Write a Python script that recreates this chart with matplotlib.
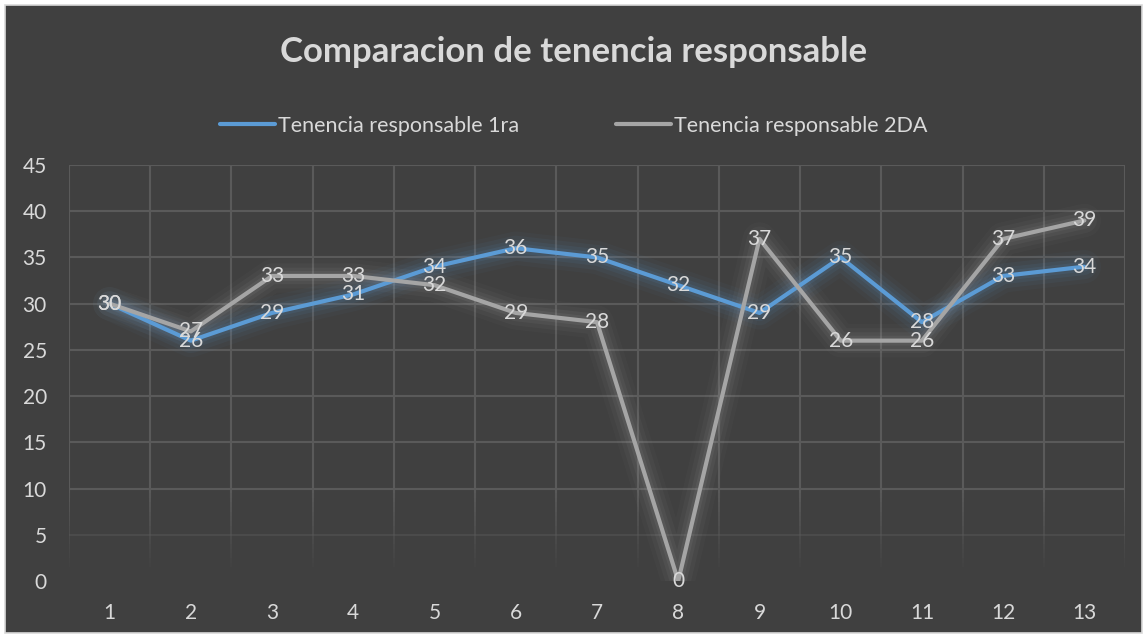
import matplotlib
matplotlib.use("Agg")
import matplotlib.pyplot as plt
from matplotlib.patches import Rectangle
from matplotlib.collections import LineCollection
import numpy as np

# data
muestras = list(range(1, 14))
primera = [30, 26, 29, 31, 34, 36, 35, 32, 29, 35, 28, 33, 34]
segunda = [30, 27, 33, 33, 32, 29, 28, 0, 37, 26, 26, 37, 39]
y_ticks = [0, 5, 10, 15, 20, 25, 30, 35, 40, 45]

BG = "#404040"
GRID = "#5a5a5a"
TXT = "#d9d9d9"
BLUE = "#5b9bd5"
GREY = "#a5a5a5"

plt.rcParams["font.family"] = ["Lato", "DejaVu Sans"]

fig = plt.figure(figsize=(11.48, 6.38), dpi=100)
fig.patch.set_facecolor("white")
fig.patches.append(Rectangle((5 / 1148, 5 / 638), 1137 / 1148, 628 / 638,
                             transform=fig.transFigure, facecolor=BG,
                             edgecolor="#d9d9d9", linewidth=1.2, zorder=-10))

ax = fig.add_axes([69 / 1148, 57 / 638, 1056 / 1148, 416 / 638])
ax.patch.set_alpha(0)
ax.set_xlim(0.5, 13.5)
ax.set_ylim(0, 45)


# gridlines fade out toward the bottom of the plot
def fade(v):
    return float(np.clip((v - 1) / 9, 0, 1))


for v in y_ticks[1:]:
    ax.plot([0.5, 13.5], [v, v], color=GRID, lw=1.5, alpha=fade(v), zorder=1)
ys = np.linspace(0, 45, 91)
for x in np.arange(0.5, 13.6, 1):
    segs = [[(x, ys[i]), (x, ys[i + 1])] for i in range(len(ys) - 1)]
    alphas = [fade((ys[i] + ys[i + 1]) / 2) for i in range(len(ys) - 1)]
    lc = LineCollection(segs, colors=[(0.353, 0.353, 0.353, a) for a in alphas],
                        linewidths=1.5, zorder=1)
    ax.add_collection(lc)

# lines with a soft glow
for vals, col in [(segunda, GREY), (primera, BLUE)]:
    for w, a in [(24, 0.04), (18, 0.06), (12, 0.08), (7, 0.10)]:
        ax.plot(muestras, vals, color=col, lw=w, alpha=a,
                solid_joinstyle="round", solid_capstyle="round", zorder=2)
ax.plot(muestras, primera, color=BLUE, lw=3, solid_joinstyle="round",
        solid_capstyle="round", zorder=3, label="Tenencia responsable 1ra")
ax.plot(muestras, segunda, color=GREY, lw=3, solid_joinstyle="round",
        solid_capstyle="round", zorder=3, label="Tenencia responsable 2DA")

# data labels centred on the points
for vals in (primera, segunda):
    for x, v in zip(muestras, vals):
        ax.text(x, v, str(v), ha="center", va="center", color=TXT,
                fontsize=15, zorder=4)

ax.set_xticks(muestras)
ax.set_yticks(y_ticks)
ax.tick_params(length=0, colors=TXT, labelsize=15)
ax.tick_params(axis="y", pad=16)
ax.tick_params(axis="x", pad=16)
for s in ax.spines.values():
    s.set_visible(False)

fig.text(0.5, 1 - 52 / 638, "Comparacion de tenencia responsable",
         ha="center", va="center", color=TXT, fontsize=25, fontweight="bold")

leg = fig.legend(loc="center", bbox_to_anchor=(0.5, 1 - 126 / 638), ncol=2,
                 frameon=False, fontsize=15.5, handlelength=2.55,
                 handletextpad=0.15, columnspacing=4.5)
for t in leg.get_texts():
    t.set_color(TXT)

fig.savefig("out.png", dpi=100, facecolor=fig.get_facecolor())
